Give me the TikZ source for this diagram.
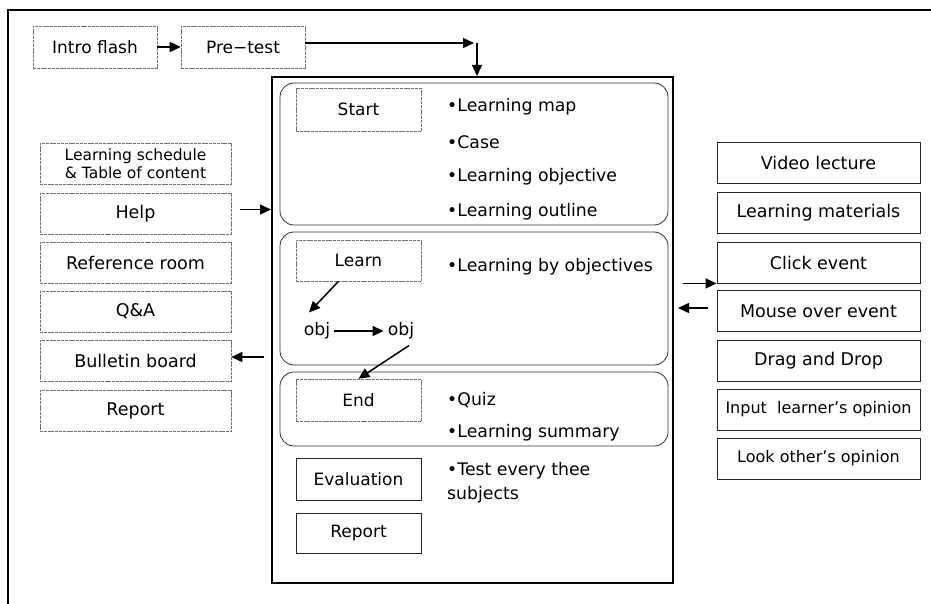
\documentclass[tikz,border=0pt]{standalone}
\usepackage{fontspec}
\setmainfont{DejaVu Sans}
\usetikzlibrary{arrows.meta}
\newcommand{\mathminus}{\symbol{"2212}}
\tikzset{
  x=1pt, y=-1pt,
  txt/.style={font=\fontsize{17.3}{20}\selectfont, inner sep=0pt},
  dashbox/.style={draw=black!55, line width=0.6pt, dash pattern=on 3pt off 0.8pt,
    minimum height=42pt, inner sep=0pt, font=\fontsize{17}{20}\selectfont},
  solidbox/.style={draw=black!85, line width=0.9pt, minimum height=41pt,
    inner sep=0pt, font=\fontsize{17}{20}\selectfont},
  leftbox/.style={dashbox, minimum width=191pt, minimum height=41pt, font=\fontsize{17.5}{20}\selectfont},
  rightbox/.style={solidbox, minimum width=203pt, font=\fontsize{17.5}{20}\selectfont},
  stagebox/.style={dashbox, minimum width=125pt},
  phase/.style={draw=black!80, line width=0.8pt, rounded corners=14pt},
  arr/.style={-{Triangle[length=11pt,width=10pt]}, line width=1.5pt},
  bullet/.style={txt, anchor=west},
}
\begin{document}
\begin{tikzpicture}
\useasboundingbox (0,0) rectangle (931,604);

% outer frame
\draw[line width=1.4pt] (8,604) -- (8,10) -- (931,10);

% opening sequence
\node[dashbox, minimum width=124pt] (intro) at (95,47) {Intro flash};
\node[dashbox, minimum width=124pt] (pre) at (243,47) {Pre\mathminus test};

% main lesson frame
\node[draw, line width=2pt, minimum width=401pt, minimum height=506pt, inner sep=0pt] (main) at (472.5,330) {};
\coordinate (turn) at (477,43);

% phases
\draw[phase] (280,83) rectangle (668,225);
\draw[phase] (280,232) rectangle (668,365);
\draw[phase] (280,372) rectangle (668,446);

\node[stagebox, minimum height=43pt] (start) at (358.5,109.5) {Start};
\node[stagebox, minimum height=41pt] (learn) at (358.5,260.5) {Learn};
\node[stagebox, minimum height=42pt] (end) at (358.5,400) {End};
\node[solidbox, minimum width=125pt, minimum height=42pt] (eval) at (358.5,479) {Evaluation};
\node[solidbox, minimum width=125pt, minimum height=40pt] (rep) at (358.5,533) {Report};

\node[bullet] (b1) at (447,107) {•Learning map};
\node[bullet] (b2) at (447,142) {•Case};
\node[bullet] (b3) at (447,177) {•Learning objective};
\node[bullet] (b4) at (447,212) {•Learning outline};
\node[bullet] (b5) at (447,267) {•Learning by objectives};
\node[bullet] (b6) at (447,400) {•Quiz};
\node[bullet] (b7) at (447,433) {•Learning summary};
\node[txt, anchor=north west, align=left, font=\fontsize{17.3}{24}\selectfont] (b8) at (447,462) {•Test every thee\\subjects};

\node[txt, inner sep=4pt] (obj1) at (317,331) {obj};
\node[txt, inner sep=4pt] (obj2) at (401,331) {obj};

% left column
\node[leftbox, align=center, font=\fontsize{15.5}{18}\selectfont] (sched) at (135.5,163.5) {Learning schedule\\\& Table of content};
\node[leftbox] (help) at (135.5,213.5) {Help};
\node[leftbox] (refroom) at (135.5,262.5) {Reference room};
\node[leftbox] (qa) at (135.5,311.5) {Q\&A};
\node[leftbox] (bull) at (135.5,361) {Bulletin board};
\node[leftbox] (lrep) at (135.5,411) {Report};

% right column
\node[rightbox] (video) at (818.5,162.5) {Video lecture};
\node[rightbox] (mat) at (818.5,213) {Learning materials};
\node[rightbox] (click) at (818.5,262.5) {Click event};
\node[rightbox] (mouse) at (818.5,311) {Mouse over event};
\node[rightbox] (drag) at (818.5,360.5) {Drag and Drop};
\node[rightbox, font=\fontsize{16}{19}\selectfont] (inp) at (818.5,409.5) {Input\ \ learner's opinion};
\node[rightbox, font=\fontsize{16}{19}\selectfont] (look) at (818.5,458.5) {Look other's opinion};

% connectors
\draw[arr] (intro.east) -- (pre.east -| pre.west);
\draw[arr] ([yshift=4pt]pre.east) -- ([xshift=-3pt]turn);
\draw[arr] (turn) -- (turn |- main.north);
\draw[arr] ([xshift=-20pt]learn.south) -- ([xshift=-8pt,yshift=6pt]obj1.north);
\draw[arr] (obj1.east) -- (obj2.west);
\draw[arr] ([xshift=8pt,yshift=-2pt]obj2.south) -- (end.north);
\draw[arr] ([xshift=9pt,yshift=4pt]help.east) -- ([yshift=4pt]help.east -| main.west);
\draw[arr] ([xshift=-7pt,yshift=4pt]bull.east -| main.west) -- ([yshift=4pt]bull.east);
\draw[arr] ([xshift=-34pt]click.south west) -- (click.south west);
\draw[arr] ([xshift=-9pt,yshift=3pt]mouse.west) -- ([xshift=4pt,yshift=3pt]mouse.west -| main.east);
\end{tikzpicture}
\end{document}
